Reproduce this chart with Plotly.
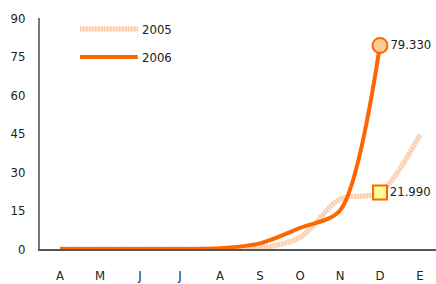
import plotly.graph_objects as go

months = ["A", "M", "J", "J", "A", "S", "O", "N", "D", "E"]
y2005 = [0, 0, 0, 0, 0, 0.3, 4.5, 19.5, 21.99, 44.5]
y2006 = [0, 0, 0, 0, 0.3, 2.2, 8.2, 15, 79.33, None]
yticks = [0, 15, 30, 45, 60, 75, 90]
series_names = ["2005", "2006"]

xs = list(range(len(months)))
FONT = "DejaVu Sans Condensed, Liberation Sans Narrow, sans-serif"
FS = 13
ORANGE = "#FF6600"
PALE = "#FCC8A6"
PALE_BG = "#FEE4D2"

fig = go.Figure()
# 2005: pale hatched line (light underlay + striped overlay)
fig.add_trace(go.Scatter(
    x=xs, y=y2005, mode="lines", name=series_names[0],
    line=dict(color=PALE_BG, width=5, shape="spline", smoothing=0.8),
    hoverinfo="skip", showlegend=False))
fig.add_trace(go.Scatter(
    x=xs, y=y2005, mode="lines", name=series_names[0],
    line=dict(color=PALE, width=5, shape="spline", smoothing=0.8, dash="1.5px,1.5px"),
    hoverinfo="skip", showlegend=False))
fig.add_trace(go.Scatter(
    x=xs, y=y2006, mode="lines", name=series_names[1],
    line=dict(color=ORANGE, width=4, shape="spline", smoothing=0.8),
    hoverinfo="skip", showlegend=False))

# end-point markers with labels (December)
idx = 8
fig.add_trace(go.Scatter(
    x=[xs[idx]], y=[y2006[idx]], mode="markers+text",
    marker=dict(symbol="circle", size=15, color="#FFCC99", line=dict(color=ORANGE, width=2)),
    text=[f"{y2006[idx]:.3f}"], textposition="middle right",
    textfont=dict(family=FONT, size=FS, color="#222"), showlegend=False, hoverinfo="skip"))
fig.add_trace(go.Scatter(
    x=[xs[idx]], y=[y2005[idx]], mode="markers+text",
    marker=dict(symbol="square", size=14, color="#FFFF99", line=dict(color=ORANGE, width=2)),
    text=[f"{y2005[idx]:.3f}"], textposition="middle right",
    textfont=dict(family=FONT, size=FS, color="#222"), showlegend=False, hoverinfo="skip"))

# manual legend
legend_rows = [(series_names[0], True, 0.952), (series_names[1], False, 0.831)]
for name, pale, yp in legend_rows:
    if pale:
        fig.add_shape(type="line", xref="paper", yref="paper", x0=0.101, x1=0.247, y0=yp, y1=yp,
                      line=dict(color=PALE_BG, width=5))
        fig.add_shape(type="line", xref="paper", yref="paper", x0=0.101, x1=0.247, y0=yp, y1=yp,
                      line=dict(color=PALE, width=5, dash="1.5px,1.5px"))
    else:
        fig.add_shape(type="line", xref="paper", yref="paper", x0=0.101, x1=0.247, y0=yp, y1=yp,
                      line=dict(color=ORANGE, width=4))
    fig.add_annotation(xref="paper", yref="paper", x=0.252, y=yp, text=name, showarrow=False,
                       xanchor="left", yanchor="middle",
                       font=dict(family=FONT, size=FS, color="#222"))

fig.update_layout(
    width=436, height=284,
    margin=dict(l=40, r=0, t=18, b=35),
    paper_bgcolor="white", plot_bgcolor="white",
    font=dict(family=FONT, size=FS, color="#222"),
    showlegend=False,
)
fig.update_xaxes(
    range=[-0.5, 9.4], tickmode="array", tickvals=xs, ticktext=months,
    showgrid=False, zeroline=False, showline=True, linecolor="#555", linewidth=1.5,
    ticks="outside", ticklen=14, tickcolor="rgba(0,0,0,0)",
    tickfont=dict(family=FONT, size=FS, color="#222"))
fig.update_yaxes(
    range=[0, 90], tickmode="array", tickvals=yticks,
    showgrid=False, zeroline=False, showline=True, linecolor="#777", linewidth=2,
    ticks="outside", ticklen=10, tickcolor="rgba(0,0,0,0)",
    tickfont=dict(family=FONT, size=FS, color="#222"))

fig.write_html("out.html", config={"displayModeBar": False},
               post_script="document.body.style.margin='0';document.body.style.overflow='hidden';")
